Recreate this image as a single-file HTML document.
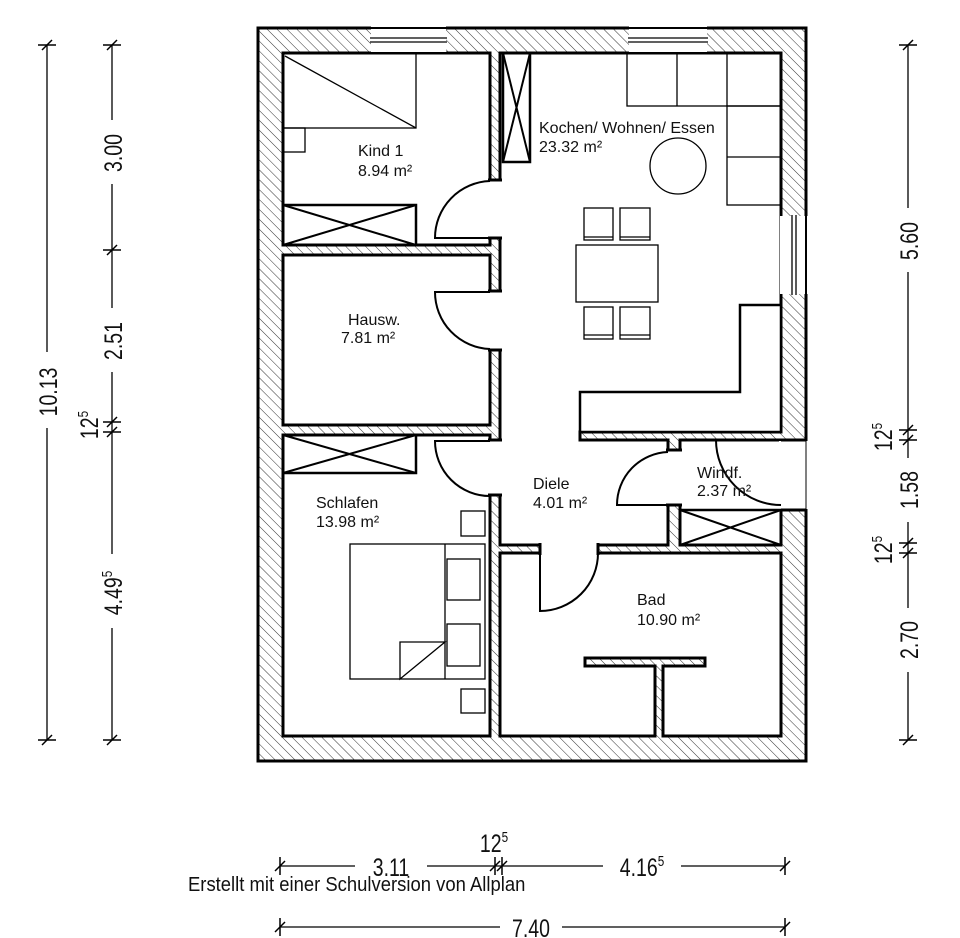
<!DOCTYPE html>
<html><head><meta charset="utf-8"><style>
html,body{margin:0;padding:0;background:#fff}
svg{display:block}
text{font-family:"Liberation Sans",sans-serif;fill:#111}
</style></head><body>
<svg width="960" height="938" viewBox="0 0 960 938" xmlns="http://www.w3.org/2000/svg">
<defs>
<pattern id="h" width="7" height="7" patternUnits="userSpaceOnUse" patternTransform="rotate(-45)">
<line x1="0" y1="0" x2="0" y2="7" stroke="#333" stroke-width="1"/>
</pattern>
</defs>
<rect width="960" height="938" fill="#fff"/>
<rect x="258" y="28" width="548" height="733" fill="url(#h)" stroke="#000" stroke-width="3"/>
<g fill="#fff" stroke="#000" stroke-width="3">
<rect x="283" y="53" width="207" height="192"/>
<rect x="283" y="255" width="207" height="170"/>
<rect x="283" y="435" width="207" height="301"/>
<polygon points="500,53 781,53 781,432 580,432 580,440 668,440 668,545 500,545"/>
<polygon points="680,440 781,440 781,545 680,545"/>
<polygon points="500,553 781,553 781,736 663,736 663,666 705,666 705,658 585,658 585,666 655,666 655,736 500,736"/>
</g>
<g fill="#fff">
<rect x="488" y="181" width="14" height="57"/>
<rect x="488" y="292" width="14" height="57"/>
<rect x="488" y="441" width="14" height="53"/>
<rect x="541" y="543" width="56" height="12"/>
<rect x="666" y="451" width="16" height="53"/>
<rect x="779" y="441" width="30" height="68"/>
<rect x="371" y="26" width="75" height="26"/>
<rect x="629" y="26" width="78" height="26"/>
<rect x="780" y="216" width="28" height="78"/>
</g>
<g stroke="#000" stroke-width="1.3" fill="none">
<line x1="370" y1="38" x2="447" y2="38"/><line x1="370" y1="42" x2="447" y2="42"/>
<line x1="370" y1="28" x2="447" y2="28" stroke-width="2"/>
<line x1="628" y1="38" x2="708" y2="38"/><line x1="628" y1="42" x2="708" y2="42"/>
<line x1="628" y1="28" x2="708" y2="28" stroke-width="2"/>
<line x1="792" y1="215" x2="792" y2="295"/><line x1="796" y1="215" x2="796" y2="295"/>
<line x1="806" y1="215" x2="806" y2="295" stroke-width="2"/>
<line x1="806" y1="440" x2="806" y2="510" stroke-width="1"/>
<g stroke-width="3">
<line x1="488" y1="180" x2="502" y2="180"/><line x1="488" y1="238" x2="502" y2="238"/>
<line x1="488" y1="291" x2="502" y2="291"/><line x1="488" y1="350" x2="502" y2="350"/>
<line x1="488" y1="440" x2="502" y2="440"/><line x1="488" y1="495" x2="502" y2="495"/>
<line x1="540" y1="543" x2="540" y2="555"/><line x1="598" y1="543" x2="598" y2="555"/>
<line x1="666" y1="450" x2="682" y2="450"/><line x1="666" y1="505" x2="682" y2="505"/>
<line x1="781" y1="440" x2="806" y2="440"/><line x1="781" y1="510" x2="806" y2="510"/>
</g>
<g stroke-width="2">
<path d="M490,181 A57,57 0 0 0 435,238 L490,238"/>
<path d="M490,292 L435,292 A57,57 0 0 0 490,349"/>
<path d="M490,441 L435,441 A55,55 0 0 0 490,496"/>
<path d="M598,553 A58,58 0 0 1 540,611 L540,553"/>
<path d="M668,452 A53,53 0 0 0 617,505 L668,505"/>
<path d="M716,440 A65,65 0 0 0 781,505"/>
</g>
<rect x="283" y="53" width="133" height="75"/>
<line x1="285" y1="56" x2="416" y2="128"/>
<rect x="283" y="128" width="22" height="24"/>
<rect x="283" y="205" width="133" height="40" stroke-width="2.5"/>
<line x1="283" y1="205" x2="416" y2="245" stroke-width="2"/><line x1="283" y1="245" x2="416" y2="205" stroke-width="2"/>
<rect x="503" y="53" width="27" height="109" stroke-width="2.5"/>
<line x1="503" y1="53" x2="530" y2="162" stroke-width="2"/><line x1="530" y1="53" x2="503" y2="162" stroke-width="2"/>
<rect x="627" y="53" width="154" height="53"/>
<line x1="677" y1="53" x2="677" y2="106"/><line x1="727" y1="53" x2="727" y2="106"/>
<rect x="727" y="106" width="54" height="99"/>
<line x1="727" y1="157" x2="781" y2="157"/>
<circle cx="678" cy="166" r="28"/>
<rect x="576" y="245" width="82" height="57"/>
<rect x="584" y="208" width="29" height="32"/><rect x="620" y="208" width="30" height="32"/>
<line x1="584" y1="237" x2="613" y2="237"/><line x1="620" y1="237" x2="650" y2="237"/>
<rect x="584" y="307" width="29" height="32"/><rect x="620" y="307" width="30" height="32"/>
<line x1="584" y1="335" x2="613" y2="335"/><line x1="620" y1="335" x2="650" y2="335"/>
<polygon points="740,305 781,305 781,432 580,432 580,392 740,392" fill="#fff" stroke-width="2.5"/>
<rect x="283" y="435" width="133" height="38" stroke-width="2.5"/>
<line x1="283" y1="435" x2="416" y2="473" stroke-width="2"/><line x1="283" y1="473" x2="416" y2="435" stroke-width="2"/>
<rect x="350" y="544" width="135" height="135"/>
<line x1="445" y1="544" x2="445" y2="679"/>
<rect x="447" y="559" width="33" height="41"/>
<rect x="447" y="624" width="33" height="42"/>
<path d="M400,679 L400,642 L445,642 Z"/>
<rect x="461" y="511" width="24" height="25"/>
<rect x="461" y="689" width="24" height="24"/>
<rect x="680" y="510" width="101" height="35" stroke-width="2.5"/>
<line x1="680" y1="510" x2="781" y2="545" stroke-width="2"/><line x1="680" y1="545" x2="781" y2="510" stroke-width="2"/>
<line x1="47" y1="45" x2="47" y2="740"/>
<line x1="112" y1="45" x2="112" y2="740"/>
<line x1="908" y1="45" x2="908" y2="740"/>
<line x1="280" y1="866" x2="785" y2="866"/>
<line x1="280" y1="927" x2="785" y2="927"/>
<g stroke-width="1.5">
<line x1="38" y1="45" x2="56" y2="45"/><line x1="42" y1="50" x2="52" y2="40"/>
<line x1="38" y1="740" x2="56" y2="740"/><line x1="42" y1="745" x2="52" y2="735"/>
<line x1="103" y1="45" x2="121" y2="45"/><line x1="107" y1="50" x2="117" y2="40"/>
<line x1="103" y1="250" x2="121" y2="250"/><line x1="107" y1="255" x2="117" y2="245"/>
<line x1="103" y1="422" x2="121" y2="422"/><line x1="107" y1="427" x2="117" y2="417"/>
<line x1="103" y1="432" x2="121" y2="432"/><line x1="107" y1="437" x2="117" y2="427"/>
<line x1="103" y1="740" x2="121" y2="740"/><line x1="107" y1="745" x2="117" y2="735"/>
<line x1="899" y1="45" x2="917" y2="45"/><line x1="903" y1="50" x2="913" y2="40"/>
<line x1="899" y1="430" x2="917" y2="430"/><line x1="903" y1="435" x2="913" y2="425"/>
<line x1="899" y1="440" x2="917" y2="440"/><line x1="903" y1="445" x2="913" y2="435"/>
<line x1="899" y1="543" x2="917" y2="543"/><line x1="903" y1="548" x2="913" y2="538"/>
<line x1="899" y1="553" x2="917" y2="553"/><line x1="903" y1="558" x2="913" y2="548"/>
<line x1="899" y1="740" x2="917" y2="740"/><line x1="903" y1="745" x2="913" y2="735"/>
<line x1="280" y1="857" x2="280" y2="875"/><line x1="275" y1="871" x2="285" y2="861"/>
<line x1="495" y1="857" x2="495" y2="875"/><line x1="490" y1="871" x2="500" y2="861"/>
<line x1="502" y1="857" x2="502" y2="875"/><line x1="497" y1="871" x2="507" y2="861"/>
<line x1="785" y1="857" x2="785" y2="875"/><line x1="780" y1="871" x2="790" y2="861"/>
<line x1="280" y1="918" x2="280" y2="936"/><line x1="275" y1="932" x2="285" y2="922"/>
<line x1="785" y1="918" x2="785" y2="936"/><line x1="780" y1="932" x2="790" y2="922"/>
</g>
</g>
<g font-size="16">
<text x="358" y="156">Kind 1</text><text x="358" y="176">8.94 m²</text>
<text x="539" y="133">Kochen/ Wohnen/ Essen</text><text x="539" y="152">23.32 m²</text>
<text x="348" y="325">Hausw.</text><text x="341" y="343">7.81 m²</text>
<text x="316" y="508">Schlafen</text><text x="316" y="527">13.98 m²</text>
<text x="533" y="489">Diele</text><text x="533" y="508">4.01 m²</text>
<text x="697" y="478">Windf.</text><text x="697" y="496">2.37 m²</text>
<text x="637" y="605">Bad</text><text x="637" y="625">10.90 m²</text>
</g>
<g fill="#fff">
<rect x="34" y="352" width="26" height="76"/>
<rect x="99" y="120" width="26" height="64"/>
<rect x="99" y="308" width="26" height="64"/>
<rect x="99" y="554" width="26" height="74"/>
<rect x="895" y="208" width="26" height="64"/>
<rect x="895" y="458" width="26" height="64"/>
<rect x="895" y="608" width="26" height="64"/>
<rect x="355" y="854" width="72" height="24"/>
<rect x="603" y="854" width="78" height="24"/>
<rect x="500" y="915" width="62" height="24"/>
</g>
<g font-size="25">
<text transform="translate(57,392) rotate(-90) scale(0.78,1)" text-anchor="middle">10.13</text>
<text transform="translate(122,153) rotate(-90) scale(0.78,1)" text-anchor="middle">3.00</text>
<text transform="translate(122,341) rotate(-90) scale(0.78,1)" text-anchor="middle">2.51</text>
<text transform="translate(122,593) rotate(-90) scale(0.78,1)" text-anchor="middle">4.49<tspan font-size="15" dy="-10">5</tspan></text>
<text transform="translate(98,425) rotate(-90) scale(0.78,1)" text-anchor="middle">12<tspan font-size="15" dy="-10">5</tspan></text>
<text transform="translate(918,241) rotate(-90) scale(0.78,1)" text-anchor="middle">5.60</text>
<text transform="translate(918,490) rotate(-90) scale(0.78,1)" text-anchor="middle">1.58</text>
<text transform="translate(918,640) rotate(-90) scale(0.78,1)" text-anchor="middle">2.70</text>
<text transform="translate(892,437) rotate(-90) scale(0.78,1)" text-anchor="middle">12<tspan font-size="15" dy="-10">5</tspan></text>
<text transform="translate(892,550) rotate(-90) scale(0.78,1)" text-anchor="middle">12<tspan font-size="15" dy="-10">5</tspan></text>
<text transform="translate(391,876) scale(0.78,1)" text-anchor="middle">3.11</text>
<text transform="translate(642,876) scale(0.78,1)" text-anchor="middle">4.16<tspan font-size="15" dy="-10">5</tspan></text>
<text transform="translate(494,852) scale(0.78,1)" text-anchor="middle">12<tspan font-size="15" dy="-10">5</tspan></text>
<text transform="translate(531,937) scale(0.78,1)" text-anchor="middle">7.40</text>
</g>
<text transform="translate(188,891) scale(0.9,1)" font-size="20.5">Erstellt mit einer Schulversion von Allplan</text>
</svg>
</body></html>
